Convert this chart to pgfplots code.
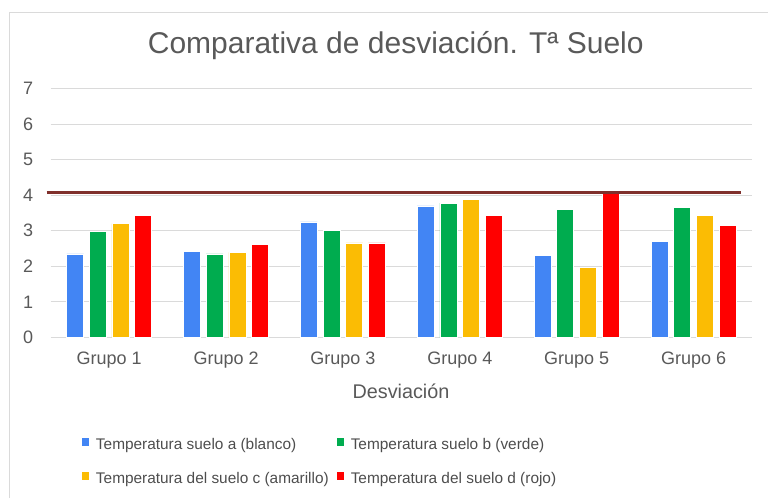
\documentclass[border=0pt]{standalone}
\usepackage{pgfplots}
\pgfplotsset{compat=1.18}
\usepackage{fontspec}
\setmainfont{Liberation Sans}
\definecolor{cA}{HTML}{4285F4}
\definecolor{cB}{HTML}{00AC4F}
\definecolor{cC}{HTML}{FBBC04}
\definecolor{cD}{HTML}{FF0000}
\definecolor{lineR}{HTML}{80302C}
\definecolor{gridc}{HTML}{DADADA}
\definecolor{txt}{HTML}{595959}
\definecolor{legtxt}{HTML}{4D4D4D}
\begin{document}
\begin{tikzpicture}[x=1pt,y=1pt]
\path[use as bounding box] (0,0) rectangle (768,498);
\draw[color=gridc, line width=1pt] (9.5,0) -- (9.5,485.5) -- (768,485.5);
\begin{axis}[
  at={(50.7pt,160.5pt)}, anchor=south west,
  scale only axis, width=701.3pt, height=249pt,
  xmin=0.5, xmax=6.5, ymin=0, ymax=7,
  ybar=5.7pt, bar width=17pt,
  axis line style={draw=none},
  ymajorgrids, grid style={gridc, line width=1pt},
  ytick={0,1,...,7}, xtick={1,2,...,6},
  xticklabels={Grupo 1,Grupo 2,Grupo 3,Grupo 4,Grupo 5,Grupo 6},
  major tick length=0pt,
  tick label style={text=txt, font=\fontsize{18}{21}\selectfont},
  /pgf/number format/assume math mode=true,
  yticklabel style={anchor=east, inner sep=0pt, xshift=-17.4pt},
  xticklabel style={anchor=base, inner sep=0pt, yshift=-26.5pt},
  title={Comparativa de desviación. Tª Suelo},
  title style={at={(0.492,1)}, anchor=base, yshift=28.5pt, inner sep=0pt, font=\fontsize{30}{36}\selectfont, text=txt},
  xlabel={Desviación},
  xlabel style={at={(0.4995,0)}, anchor=base, yshift=-60.5pt, inner sep=0pt, font=\fontsize{19.8}{24}\selectfont, text=txt},
  legend columns=2,
  legend style={draw=none, fill=none, at={(0.0446,-0.4036)}, anchor=north west,
    inner sep=0pt, outer sep=0pt, row sep=18pt,
    font=\fontsize{15.4}{18}\selectfont, text=legtxt,
    nodes={inner sep=0pt, text height=12pt, text depth=4pt},
    /tikz/every odd column/.append style={column sep=7pt},
    /tikz/every even column/.append style={column sep=8pt}},
  legend cell align=left,
  legend image code/.code={\path[#1, draw=none] (0pt,0pt) rectangle (7pt,8pt);},
  clip=false,
]
\addplot[fill=cA, draw=white, line width=0.75pt] coordinates {(1,2.35) (2,2.43) (3,3.25) (4,3.70) (5,2.30) (6,2.70)};
\addplot[fill=cB, draw=white, line width=0.75pt] coordinates {(1,2.97) (2,2.35) (3,3.01) (4,3.78) (5,3.60) (6,3.65)};
\addplot[fill=cC, draw=white, line width=0.75pt] coordinates {(1,3.20) (2,2.39) (3,2.66) (4,3.87) (5,1.98) (6,3.42)};
\addplot[fill=cD, draw=white, line width=0.75pt] coordinates {(1,3.42) (2,2.62) (3,2.66) (4,3.42) (5,4.06) (6,3.15)};
\legend{Temperatura suelo a (blanco),Temperatura suelo b (verde),Temperatura del suelo c (amarillo),Temperatura del suelo d (rojo)}
\addplot[lineR, line width=2.5pt, sharp plot, forget plot] coordinates {(0.466,4.08) (6.405,4.08)};
\end{axis}
\end{tikzpicture}
\end{document}
